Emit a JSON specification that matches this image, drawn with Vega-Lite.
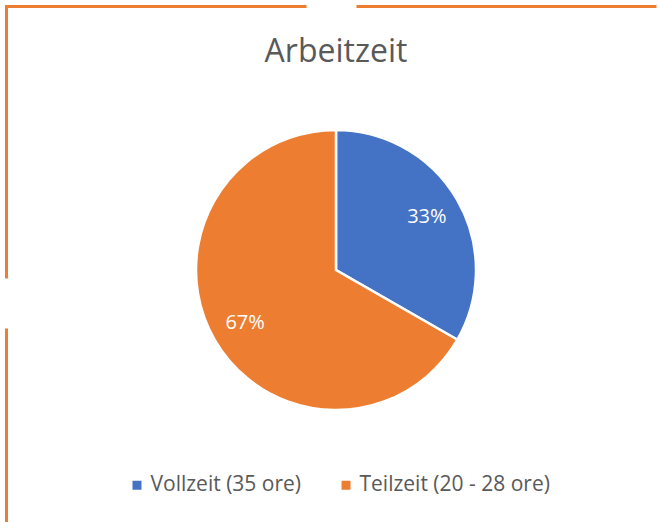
{
  "$schema": "https://vega.github.io/schema/vega-lite/v6.json",
  "width": 659,
  "height": 527,
  "autosize": {"type": "none"},
  "padding": {"left": 6.5, "top": 6.5, "right": 0, "bottom": 0},
  "background": "white",
  "view": {"stroke": "#ED7D31", "strokeWidth": 3, "strokeDash": [300, 50]},
  "config": {"view": {"strokeDash": [300, 50]}},
  "title": {
    "text": "Arbeitzeit",
    "font": "Open Sans",
    "fontSize": 32,
    "fontWeight": "normal",
    "color": "#595959",
    "anchor": "middle",
    "baseline": "alphabetic",
    "offset": 4,
    "dy": 91
  },
  "data": {
    "values": [
      {"kategorie": "Vollzeit (35 ore)", "anteil": 33.3, "label": "33%", "ord": 1},
      {"kategorie": "Teilzeit (20 - 28 ore)", "anteil": 66.7, "label": "67%", "ord": 2}
    ]
  },
  "encoding": {
    "theta": {"field": "anteil", "type": "quantitative", "stack": true},
    "order": {"field": "ord", "type": "quantitative"},
    "color": {
      "field": "kategorie",
      "type": "nominal",
      "scale": {"domain": ["Vollzeit (35 ore)", "Teilzeit (20 - 28 ore)"], "range": ["#4472C4", "#ED7D31"]},
      "legend": {
        "orient": "none",
        "direction": "horizontal",
        "legendX": 120,
        "legendY": 468,
        "title": null,
        "symbolType": "square",
        "symbolSize": 81,
        "symbolStrokeWidth": 0,
        "labelFont": "Open Sans",
        "labelFontSize": 21,
        "labelColor": "#595959",
        "labelOffset": 3,
        "columnPadding": 34,
        "labelLimit": 400
      }
    }
  },
  "layer": [
    {
      "mark": {"type": "arc", "outerRadius": 140, "stroke": "white", "strokeWidth": 2.5}
    },
    {
      "mark": {"type": "text", "radius": 105, "fill": "white", "font": "Open Sans", "fontSize": 20, "baseline": "middle", "align": "center"},
      "encoding": {"text": {"field": "label"}, "color": {"value": "white"}}
    }
  ]
}
